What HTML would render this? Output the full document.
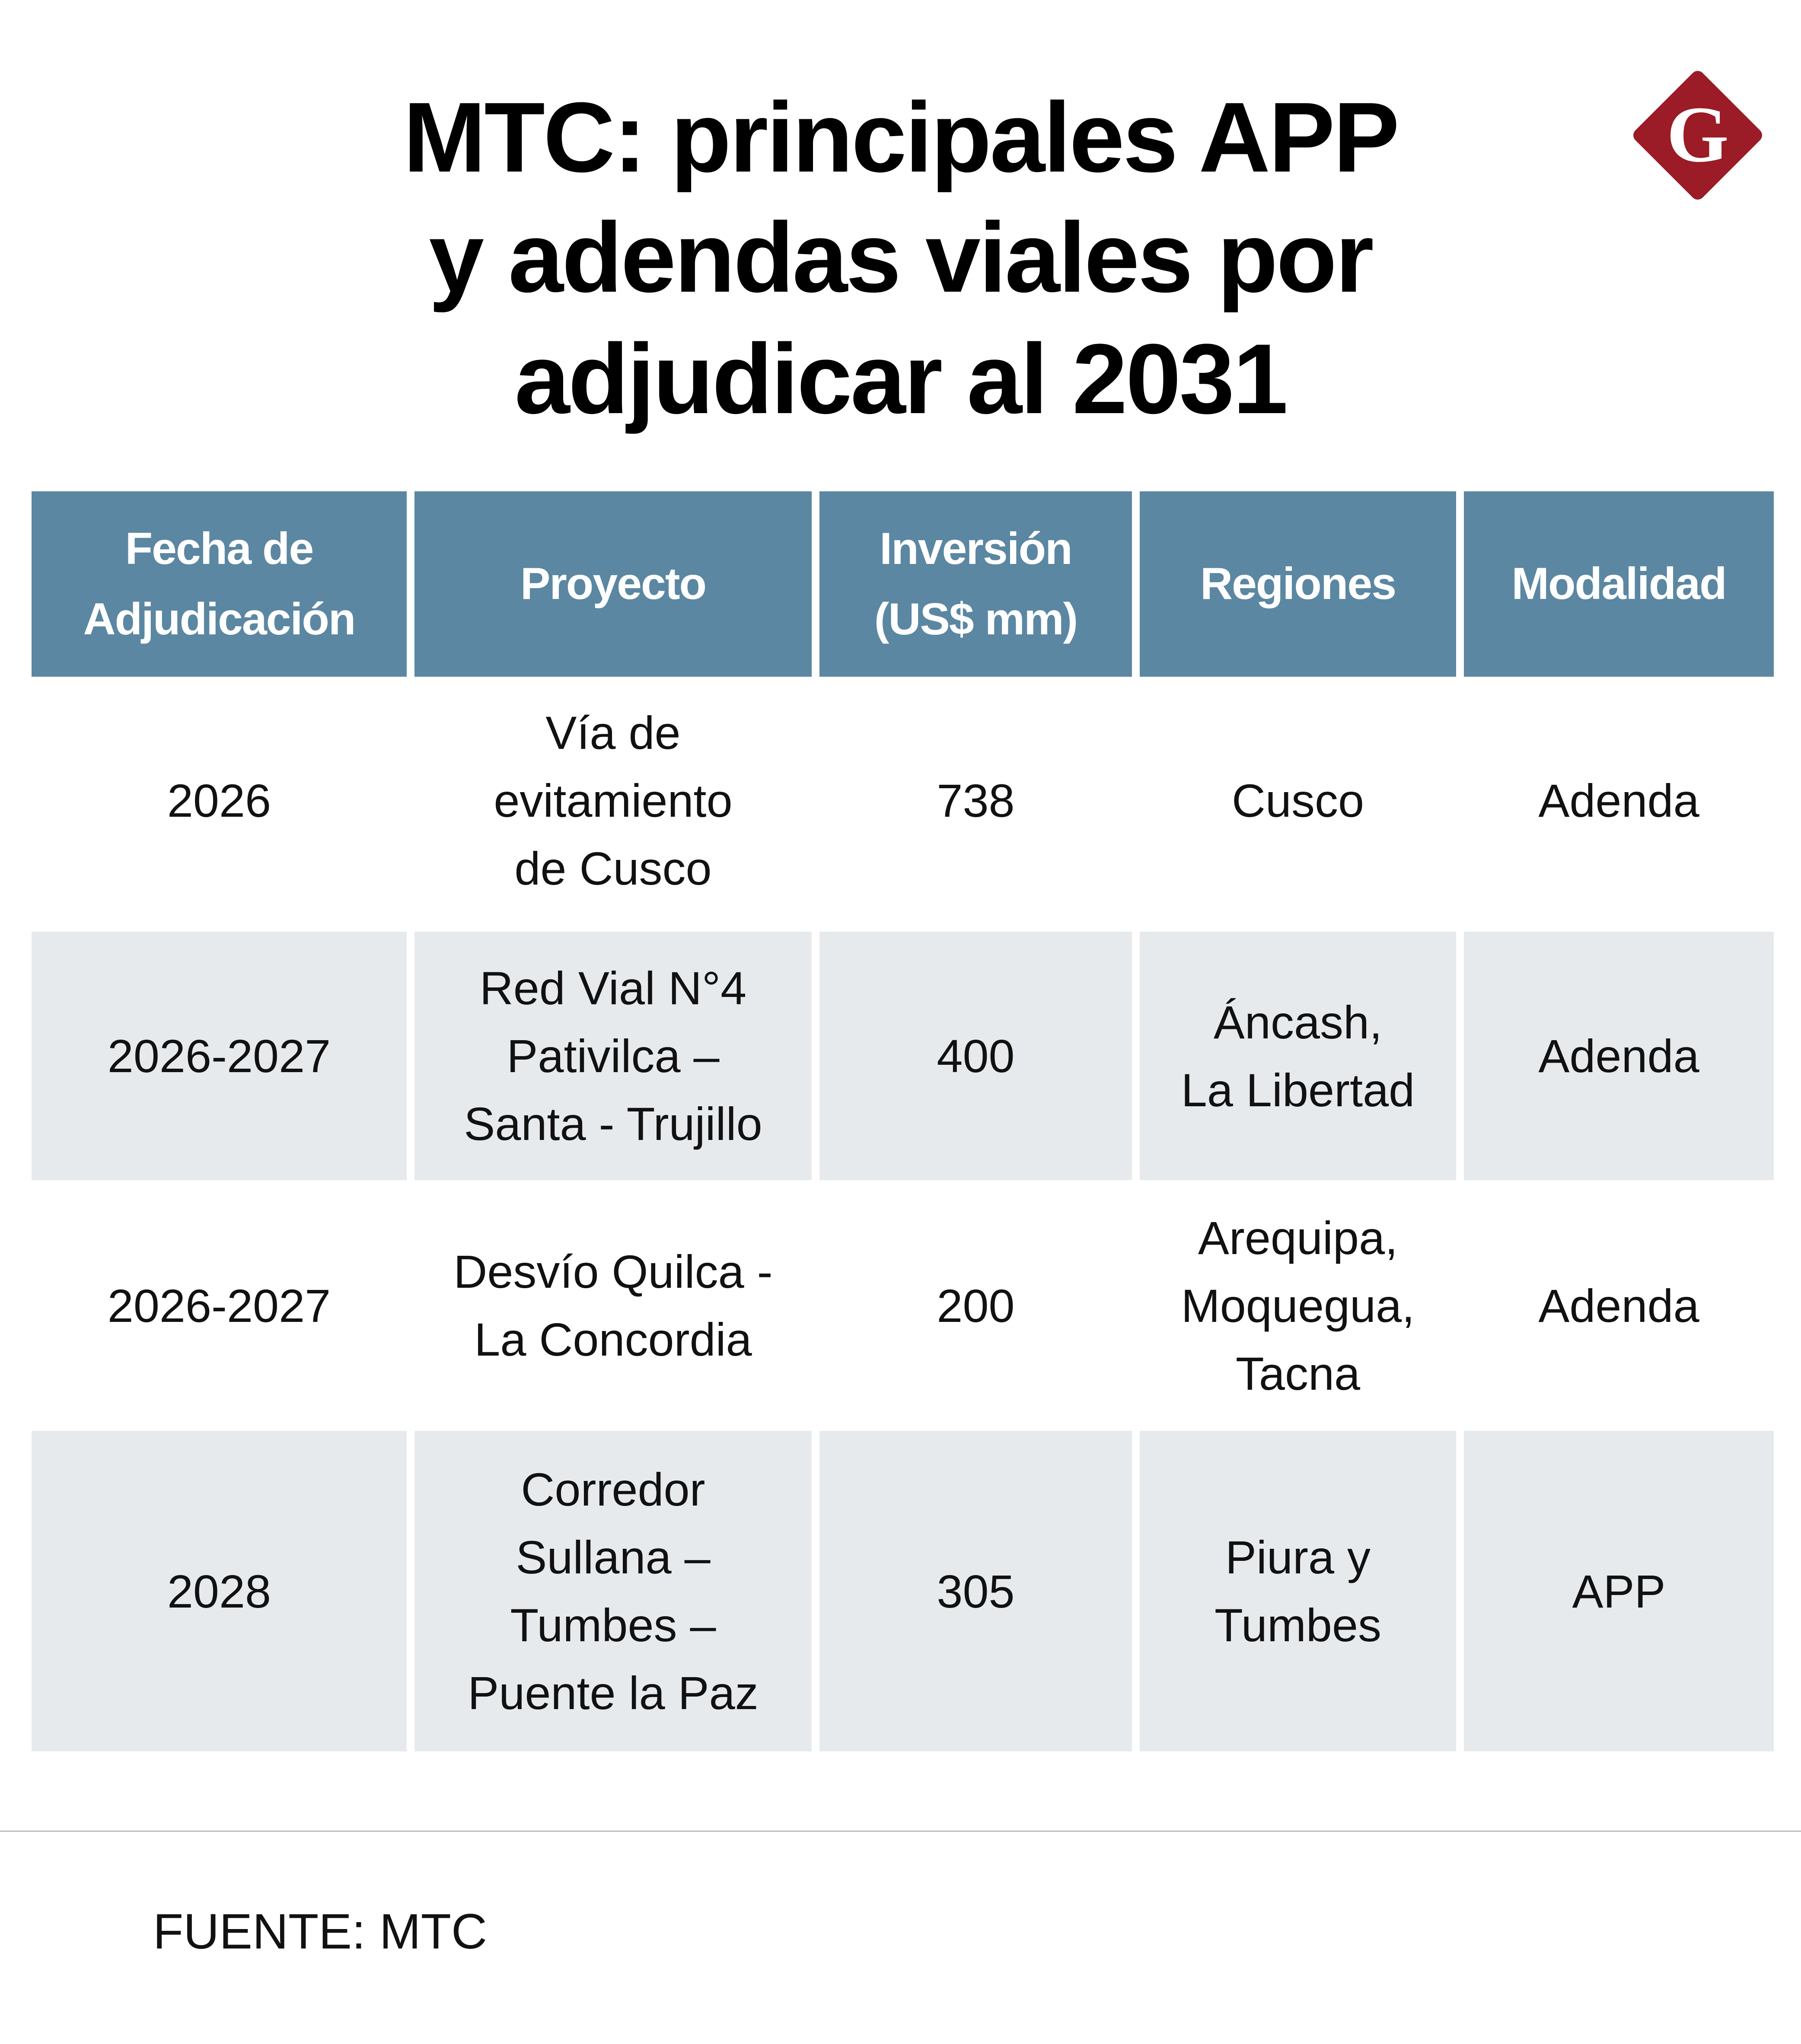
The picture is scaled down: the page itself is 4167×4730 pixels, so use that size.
<!DOCTYPE html>
<html><head><meta charset="utf-8"><style>
body{margin:0;width:4167px;height:4730px;background:#fff;position:relative;overflow:hidden;font-family:"Liberation Sans",sans-serif}
.t{position:absolute;left:0;width:4167px;text-align:center;font-weight:900;font-size:230px;color:#000;letter-spacing:-4px;line-height:280px}
.c{position:absolute;display:flex;align-items:center;justify-content:center;text-align:center;font-size:108px;line-height:157px;color:#111}
.h{background:#5b87a2;color:#fff;font-weight:bold;font-size:104px;line-height:163px;letter-spacing:-2px}
.g{background:#e7eaed}
</style></head><body>
<div class="t" style="top:178px">MTC: principales APP</div>
<div class="t" style="top:456px">y adendas viales por</div>
<div class="t" style="top:737px">adjudicar al 2031</div>
<svg style="position:absolute;left:3770px;top:155px" width="316" height="316" viewBox="0 0 316 316">
<rect x="48" y="48" width="220" height="220" rx="16" transform="rotate(45 158 158)" fill="#9b1b26"/>
<text x="158" y="218" text-anchor="middle" font-family="Liberation Serif,serif" font-weight="bold" font-size="185" fill="#fff">G</text>
</svg>
<div id="tbl"></div>
<div style="position:absolute;left:0;top:4236px;width:4167px;height:3px;background:#bbb"></div>
<div style="position:absolute;left:354px;top:4400px;font-size:115px;line-height:140px;color:#111">FUENTE: MTC</div>
<script>
const cols=[[73,941],[959,1878],[1896,2619],[2637,3369],[3387,4104]];
const rows=[[1137,1566],[1566,2138],[2156,2731],[2749,3293],[3311,4053]];
const header=["Fecha de<br>Adjudicación","Proyecto","Inversión<br>(US$ mm)","Regiones","Modalidad"];
const data=[
["2026","Vía de<br>evitamiento<br>de Cusco","738","Cusco","Adenda"],
["2026-2027","Red Vial N°4<br>Pativilca –<br>Santa - Trujillo","400","Áncash,<br>La Libertad","Adenda"],
["2026-2027","Desvío Quilca -<br>La Concordia","200","Arequipa,<br>Moquegua,<br>Tacna","Adenda"],
["2028","Corredor<br>Sullana –<br>Tumbes –<br>Puente la Paz","305","Piura y<br>Tumbes","APP"]];
const names=["date","project","investment","regions","modality"];
const tbl=document.getElementById('tbl');
[header,...data].forEach((r,i)=>{r.forEach((txt,j)=>{
const d=document.createElement('div');
d.className='c'+(i==0?' h':(i%2==0?' g':''));


d.style.left=cols[j][0]+'px';d.style.width=(cols[j][1]-cols[j][0])+'px';
d.style.top=rows[i][0]+'px';d.style.height=(rows[i][1]-rows[i][0])+'px';
d.innerHTML=txt;tbl.appendChild(d);});});
</script>
</body></html>
